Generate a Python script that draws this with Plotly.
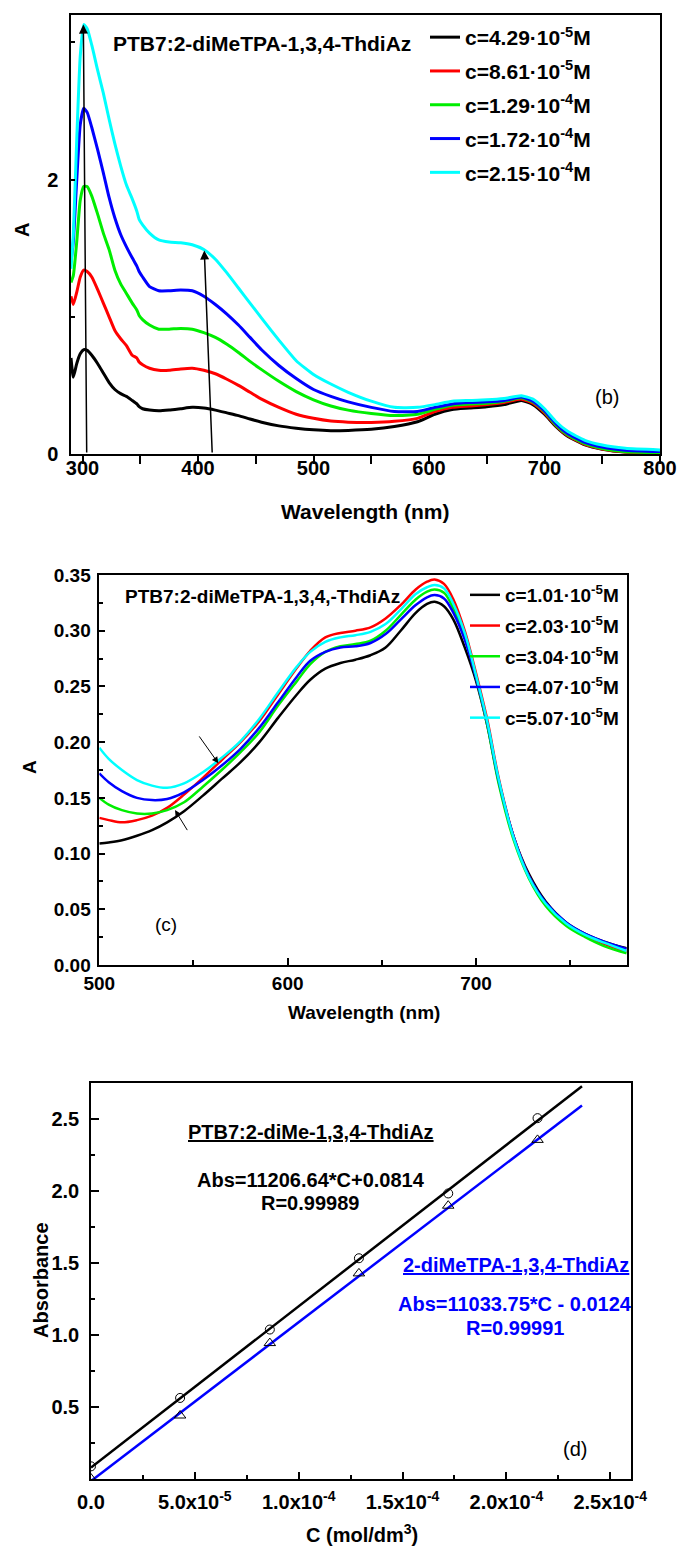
import plotly.graph_objects as go

# ---------------- Panel (b) data ----------------
wl_b = [290, 292, 295, 298, 301, 304, 308, 313, 318, 323, 328, 333, 338, 343, 347, 349, 352, 358, 366, 375,
        385, 395, 405, 415, 425, 435, 445, 455, 470, 485, 500, 515, 530, 550, 570, 590, 605, 620, 635, 650,
        665, 680, 690, 700, 710, 720, 735, 750, 770, 800]
b_black = [0.70, 0.56, 0.66, 0.73, 0.76, 0.755, 0.72, 0.66, 0.59, 0.52, 0.47, 0.44, 0.42, 0.39, 0.365, 0.345, 0.33, 0.32, 0.315, 0.32,
           0.33, 0.34, 0.335, 0.32, 0.30, 0.28, 0.255, 0.232, 0.205, 0.188, 0.176, 0.17, 0.172, 0.18, 0.20, 0.235, 0.29, 0.325, 0.335, 0.345,
           0.36, 0.39, 0.36, 0.29, 0.20, 0.13, 0.066, 0.035, 0.014, 0.005]
b_red = [1.15, 1.09, 1.18, 1.29, 1.34, 1.33, 1.29, 1.20, 1.10, 1.00, 0.90, 0.84, 0.79, 0.72, 0.70, 0.67, 0.65, 0.625, 0.61, 0.61,
         0.62, 0.625, 0.61, 0.585, 0.545, 0.50, 0.45, 0.40, 0.34, 0.29, 0.26, 0.24, 0.232, 0.23, 0.238, 0.26, 0.31, 0.34, 0.35, 0.36,
         0.375, 0.40, 0.37, 0.30, 0.205, 0.135, 0.07, 0.037, 0.015, 0.006]
b_green = [1.25, 1.30, 1.55, 1.85, 1.95, 1.95, 1.88, 1.75, 1.61, 1.49, 1.34, 1.24, 1.17, 1.10, 1.05, 1.01, 0.98, 0.94, 0.91, 0.91,
           0.915, 0.91, 0.885, 0.85, 0.80, 0.74, 0.675, 0.615, 0.53, 0.455, 0.395, 0.35, 0.32, 0.295, 0.28, 0.29, 0.325, 0.355, 0.365, 0.37,
           0.385, 0.41, 0.38, 0.31, 0.21, 0.14, 0.075, 0.04, 0.017, 0.008]
b_blue = [1.40, 1.55, 2.00, 2.40, 2.52, 2.49, 2.38, 2.22, 2.05, 1.87, 1.72, 1.60, 1.51, 1.43, 1.37, 1.33, 1.29, 1.22, 1.19, 1.19,
          1.195, 1.19, 1.15, 1.09, 1.02, 0.94, 0.85, 0.76, 0.645, 0.55, 0.47, 0.42, 0.38, 0.34, 0.31, 0.31, 0.34, 0.365, 0.375, 0.38,
          0.39, 0.415, 0.385, 0.315, 0.22, 0.15, 0.085, 0.05, 0.028, 0.018]
b_cyan = [1.35, 1.60, 2.30, 2.90, 3.13, 3.10, 2.98, 2.80, 2.63, 2.44, 2.26, 2.10, 1.96, 1.86, 1.77, 1.71, 1.67, 1.61, 1.56, 1.545,
          1.54, 1.525, 1.49, 1.42, 1.32, 1.21, 1.10, 0.99, 0.83, 0.68, 0.58, 0.51, 0.45, 0.385, 0.34, 0.34, 0.36, 0.385, 0.39, 0.395,
          0.405, 0.425, 0.40, 0.33, 0.235, 0.165, 0.10, 0.065, 0.042, 0.03]
b_names = ["c=4.29·10<sup>-5</sup>M", "c=8.61·10<sup>-5</sup>M", "c=1.29·10<sup>-4</sup>M",
           "c=1.72·10<sup>-4</sup>M", "c=2.15·10<sup>-4</sup>M"]

# ---------------- Panel (c) data ----------------
wl_c = [500, 505, 512, 520, 528, 536, 545, 555, 565, 575, 585, 595, 605, 612, 620, 628, 636, 644, 652, 660,
        668, 674, 678, 683, 688, 694, 700, 706, 712, 720, 728, 737, 748, 758, 768, 780]
c_black = [0.109, 0.110, 0.112, 0.116, 0.121, 0.128, 0.138, 0.152, 0.167, 0.182, 0.200, 0.222, 0.243, 0.256, 0.266, 0.271, 0.274, 0.278, 0.285, 0.300,
           0.316, 0.324, 0.326, 0.322, 0.310, 0.285, 0.255, 0.215, 0.165, 0.115, 0.082, 0.057, 0.038, 0.028, 0.021, 0.015]
c_red = [0.132, 0.130, 0.128, 0.130, 0.134, 0.141, 0.153, 0.168, 0.184, 0.200, 0.219, 0.243, 0.267, 0.282, 0.294, 0.298, 0.300, 0.303, 0.311, 0.323,
         0.337, 0.344, 0.346, 0.342, 0.328, 0.300, 0.262, 0.220, 0.168, 0.115, 0.080, 0.055, 0.037, 0.027, 0.019, 0.012]
c_green = [0.150, 0.144, 0.139, 0.136, 0.136, 0.139, 0.146, 0.160, 0.175, 0.191, 0.209, 0.233, 0.255, 0.270, 0.281, 0.286, 0.288, 0.291, 0.300, 0.314,
           0.328, 0.335, 0.337, 0.334, 0.320, 0.295, 0.258, 0.215, 0.163, 0.112, 0.078, 0.053, 0.035, 0.025, 0.017, 0.0105]
c_blue = [0.172, 0.164, 0.156, 0.150, 0.148, 0.149, 0.155, 0.166, 0.179, 0.194, 0.213, 0.236, 0.259, 0.273, 0.281, 0.285, 0.286, 0.289, 0.297, 0.310,
          0.323, 0.330, 0.332, 0.329, 0.316, 0.292, 0.258, 0.217, 0.166, 0.115, 0.080, 0.056, 0.038, 0.028, 0.021, 0.0145]
c_cyan = [0.195, 0.185, 0.175, 0.166, 0.161, 0.159, 0.163, 0.173, 0.186, 0.201, 0.221, 0.245, 0.268, 0.281, 0.290, 0.294, 0.296, 0.299, 0.306, 0.319,
          0.333, 0.339, 0.341, 0.338, 0.324, 0.298, 0.260, 0.218, 0.167, 0.114, 0.079, 0.055, 0.037, 0.027, 0.020, 0.0125]
c_names = ["c=1.01·10<sup>-5</sup>M", "c=2.03·10<sup>-5</sup>M", "c=3.04·10<sup>-5</sup>M",
           "c=4.07·10<sup>-5</sup>M", "c=5.07·10<sup>-5</sup>M"]

# ---------------- Panel (d) data ----------------
conc = [0.0, 4.29e-5, 8.61e-5, 1.29e-4, 1.72e-4, 2.15e-4]
abs_blend = [0.09, 0.565, 1.04, 1.535, 1.985, 2.508]
abs_dye = [0.005, 0.443, 0.946, 1.43, 1.90, 2.357]
fit_c = [0.0, 2.364e-4]
fit_blend = [0.0814, 2.730]
fit_dye = [-0.0124, 2.596]
d_xtickvals = [0.0, 5e-5, 1e-4, 1.5e-4, 2e-4, 2.5e-4]
d_xticktext = ["0.0", "5.0x10<sup>-5</sup>", "1.0x10<sup>-4</sup>", "1.5x10<sup>-4</sup>",
               "2.0x10<sup>-4</sup>", "2.5x10<sup>-4</sup>"]

colors = ["#000000", "#ff0000", "#00ee00", "#0000ff", "#00ffff"]
FONT = "Liberation Sans, Arial, sans-serif"
W, H = 679, 1546


def px(x):
    return x / W


def py(y):
    return 1 - y / H


fig = go.Figure()

for i, (ys, name, col) in enumerate(zip([b_black, b_red, b_green, b_blue, b_cyan], b_names, colors)):
    fig.add_trace(go.Scatter(x=wl_b, y=ys, mode="lines", name=name, legendgroup="b%d" % i,
                             line=dict(color=col, width=3, shape="spline", smoothing=0.5),
                             xaxis="x", yaxis="y", legend="legend"))

for i, (ys, name, col) in enumerate(zip([c_black, c_red, c_green, c_blue, c_cyan], c_names, colors)):
    fig.add_trace(go.Scatter(x=wl_c, y=ys, mode="lines", name=name, legendgroup="c%d" % i,
                             line=dict(color=col, width=2.5, shape="spline", smoothing=1.0),
                             xaxis="x2", yaxis="y2", legend="legend2"))

fig.add_trace(go.Scatter(x=fit_c, y=fit_blend, mode="lines", line=dict(color="black", width=2.5),
                         xaxis="x3", yaxis="y3", showlegend=False))
fig.add_trace(go.Scatter(x=fit_c, y=fit_dye, mode="lines", line=dict(color="#0000ff", width=2.5),
                         xaxis="x3", yaxis="y3", showlegend=False))
fig.add_trace(go.Scatter(x=conc, y=abs_blend, mode="markers",
                         marker=dict(symbol="circle-open", size=9, color="black", line=dict(width=1)),
                         xaxis="x3", yaxis="y3", showlegend=False))
fig.add_trace(go.Scatter(x=conc, y=abs_dye, mode="markers",
                         marker=dict(symbol="triangle-up-open", size=10, color="black", line=dict(width=1)),
                         xaxis="x3", yaxis="y3", showlegend=False))


def axis(**kw):
    d = dict(showline=True, linecolor="black", linewidth=1.5, mirror=True, showgrid=False,
             zeroline=False, tickcolor="black", tickwidth=1.5, automargin=False,
             tickfont=dict(family=FONT, size=20, color="black", weight="bold"))
    d.update(kw)
    return d


def minor(dt, t0, ticks, ln):
    return dict(dtick=dt, tick0=t0, ticks=ticks, ticklen=ln, tickwidth=1.5, tickcolor="black", showgrid=False)


fig.update_layout(
    template="none",
    width=W, height=H, margin=dict(l=0, r=0, t=0, b=0, pad=0), autosize=False,
    paper_bgcolor="white", plot_bgcolor="white",
    font=dict(family=FONT, color="black", size=18, weight="bold"),
    xaxis=axis(domain=[px(71), px(660)], range=[290, 800], anchor="y",
               tickvals=[300, 400, 500, 600, 700, 800], ticks="outside", ticklen=8, ticklabelstandoff=-13,
               minor=minor(50, 300, "outside", 8)),
    yaxis=axis(domain=[py(454), py(15)], range=[0, 3.2], anchor="x",
               tickvals=[0, 2], ticks="inside", ticklen=4, ticklabelstandoff=7,
               minor=minor(1, 0, "inside", 4)),
    xaxis2=axis(domain=[px(99.3), px(626.7)], range=[500, 780], anchor="y2",
                tickvals=[500, 600, 700], ticks="inside", ticklen=7, ticklabelstandoff=0,
                tickfont_size=19, minor=minor(50, 500, "inside", 5)),
    yaxis2=axis(domain=[py(965), py(575)], range=[0, 0.35], anchor="x2",
                dtick=0.05, tick0=0, tickformat=".2f", ticks="inside", ticklen=6, ticklabelstandoff=3,
                tickfont_size=19, minor=minor(0.025, 0, "inside", 3.5)),
    xaxis3=axis(domain=[px(91), px(631)], range=[0, 2.6e-4], anchor="y3",
                tickvals=d_xtickvals, ticktext=d_xticktext, ticks="inside", ticklen=8, ticklabelstandoff=4,
                tickfont_size=20, minor=minor(2.5e-5, 0, "inside", 4.5)),
    yaxis3=axis(domain=[py(1479.3), py(1083.3)], range=[0, 2.75], anchor="x3",
                tickvals=[0.5, 1.0, 1.5, 2.0, 2.5], tickformat=".1f", ticks="inside", ticklen=8,
                ticklabelstandoff=6, tickfont_size=20, minor=minor(0.25, 0, "inside", 4)),
    legend=dict(x=px(425), y=py(17), xanchor="left", yanchor="top", bgcolor="rgba(0,0,0,0)",
                borderwidth=0, tracegroupgap=3.5, traceorder="grouped",
                font=dict(family=FONT, size=21, color="black", weight="bold")),
    legend2=dict(x=px(465), y=py(576), xanchor="left", yanchor="top", bgcolor="rgba(0,0,0,0)",
                 borderwidth=0, tracegroupgap=3, traceorder="grouped",
                 font=dict(family=FONT, size=19, color="black", weight="bold")),
    showlegend=True,
)

ann = []


def A(text, x, y, xref="paper", yref="paper", size=20, weight="bold", color="black", xanchor="center",
      yanchor="middle", angle=0):
    ann.append(dict(text=text, x=x, y=y, xref=xref, yref=yref, showarrow=False, xanchor=xanchor,
                    yanchor=yanchor, textangle=angle,
                    font=dict(family=FONT, size=size, color=color, weight=weight)))


# axis titles
A("A", px(22), py(230), size=20, angle=-90)
A("Wavelength (nm)", px(365), py(512), size=21)
A("A", px(30), py(767), size=19, angle=-90)
A("Wavelength (nm)", px(364), py(1013), size=19)
A("Absorbance", px(41), py(1280), size=20, angle=-90)
A("C (mol/dm<sup>3</sup>)", px(362), py(1533), size=20)

# panel texts
A("PTB7:2-diMeTPA-1,3,4-ThdiAz", 324.6, 2.99, "x", "y", size=21, xanchor="left")
A("(b)", 753.8, 0.418, "x", "y", size=20, weight="normal")
A("PTB7:2-diMeTPA-1,3,4,-ThdiAz", 512.4, 0.331, "x2", "y2", size=19, xanchor="left")
A("(c)", 535.4, 0.036, "x2", "y2", size=19, weight="normal")
A("<u>PTB7:2-diMe-1,3,4-ThdiAz</u>", 1.06e-4, 2.41, "x3", "y3", size=20)
A("Abs=11206.64*C+0.0814", 1.06e-4, 2.078, "x3", "y3", size=20)
A("R=0.99989", 1.055e-4, 1.919, "x3", "y3", size=20)
A("<u>2-diMeTPA-1,3,4-ThdiAz</u>", 2.047e-4, 1.488, "x3", "y3", size=20, color="#0000ff")
A("Abs=11033.75*C - 0.0124", 2.042e-4, 1.22, "x3", "y3", size=20, color="#0000ff")
A("R=0.99991", 2.04e-4, 1.053, "x3", "y3", size=20, color="#0000ff")
A("(d)", 2.331e-4, 0.207, "x3", "y3", size=20, weight="normal")


def arrow(x0, y0, x1, y1, xr, yr, head=2, width=1.5, size=1.2):
    ann.append(dict(x=x1, y=y1, ax=x0, ay=y0, xref=xr, yref=yr, axref=xr, ayref=yr, text="",
                    showarrow=True, arrowhead=head, arrowsize=size, arrowwidth=width, arrowcolor="black"))


arrow(303.6, 0.0, 300.7, 3.13, "x", "y")
arrow(412.3, 0.0, 405.4, 1.483, "x", "y")
arrow(552.5, 0.2065, 563.2, 0.181, "x2", "y2", head=2, width=1, size=1.3)
arrow(547.2, 0.1197, 540.2, 0.139, "x2", "y2", head=2, width=1, size=1.3)

fig.update_layout(annotations=ann)
fig.write_html("out.html")
